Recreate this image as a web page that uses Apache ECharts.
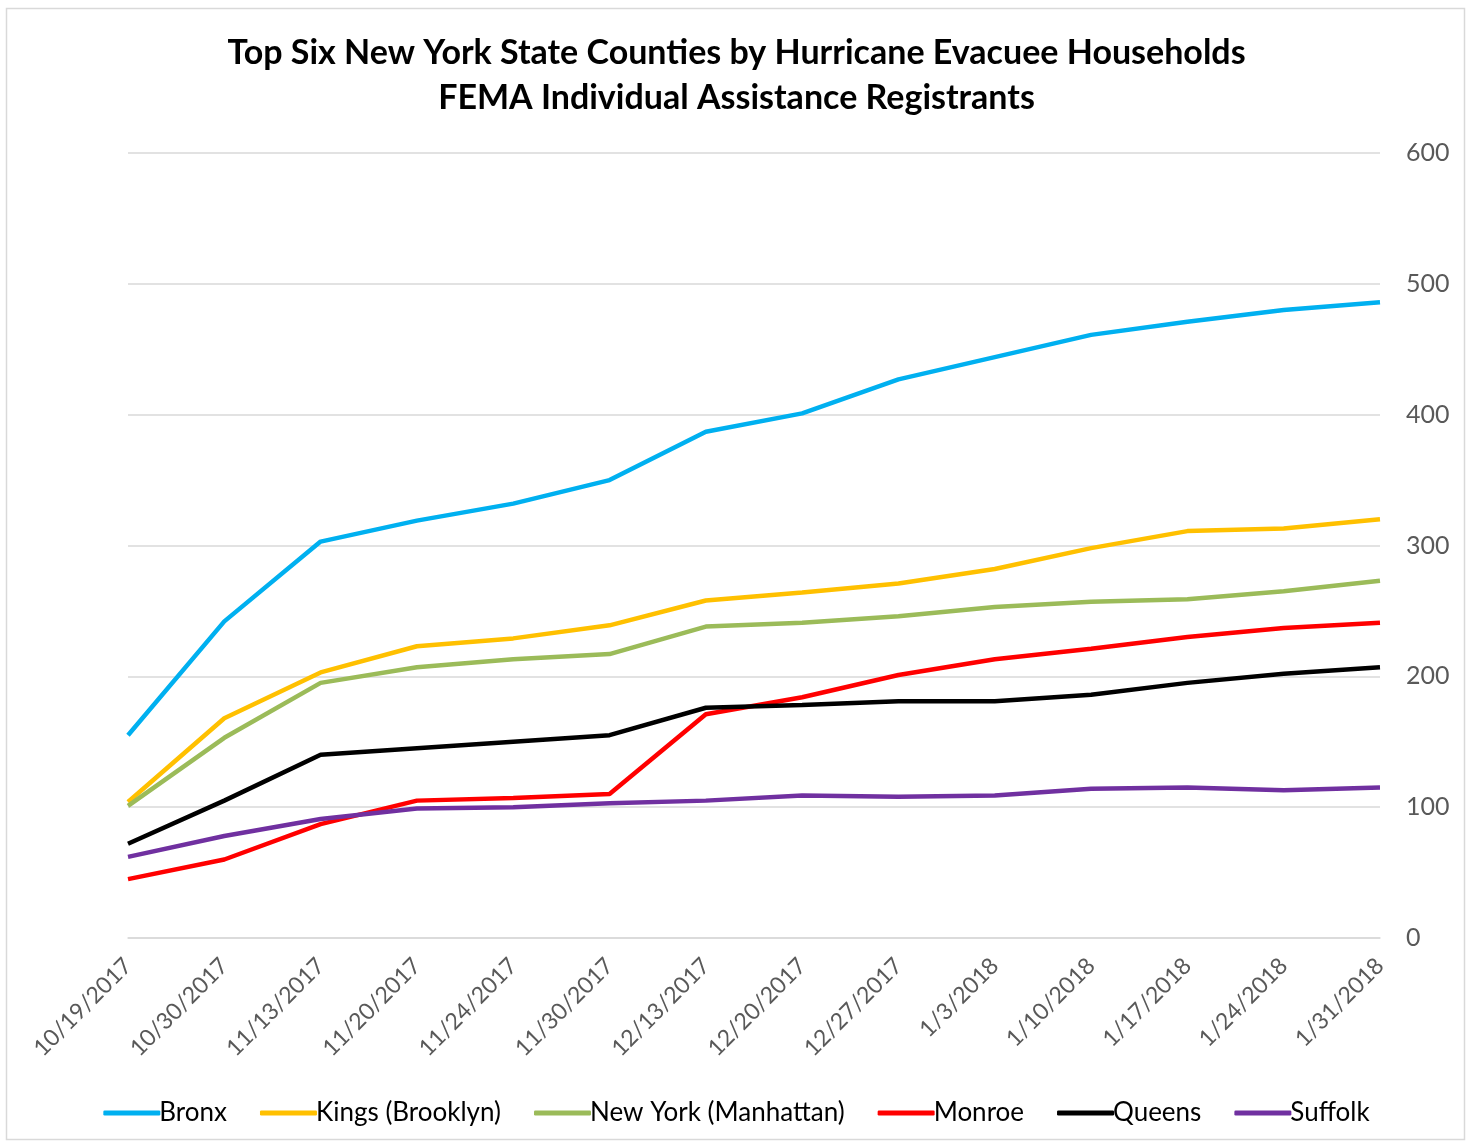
<!DOCTYPE html>
<html>
<head>
<meta charset="utf-8">
<script src="https://cdn.jsdelivr.net/npm/echarts@6/dist/echarts.min.js"></script>
<style>
html,body{margin:0;padding:0;background:#fff;}
#chart{width:1473px;height:1147px;}
</style>
</head>
<body>
<div id="chart"></div>
<script>
const categories = ['10/19/2017','10/30/2017','11/13/2017','11/20/2017','11/24/2017','11/30/2017','12/13/2017','12/20/2017','12/27/2017','1/3/2018','1/10/2018','1/17/2018','1/24/2018','1/31/2018'];
const bronx    = [155, 242, 303, 319, 332, 350, 387, 401, 427, 444, 461, 471, 480, 486];
const kings    = [104, 168, 203, 223, 229, 239, 258, 264, 271, 282, 298, 311, 313, 320];
const newYork  = [101, 153, 195, 207, 213, 217, 238, 241, 246, 253, 257, 259, 265, 273];
const monroe   = [45, 60, 87, 105, 107, 110, 171, 184, 201, 213, 221, 230, 237, 241];
const queens   = [72, 105, 140, 145, 150, 155, 176, 178, 181, 181, 186, 195, 202, 207];
const suffolk  = [62, 78, 91, 99, 100, 103, 105, 109, 108, 109, 114, 115, 113, 115];
const yTicks = {min: 0, max: 600, interval: 100};

const seriesDefs = [
  {name: 'Bronx', data: bronx, color: '#00B0F0'},
  {name: 'Kings (Brooklyn)', data: kings, color: '#FFC000'},
  {name: 'New York (Manhattan)', data: newYork, color: '#9BBB59'},
  {name: 'Monroe', data: monroe, color: '#FF0000'},
  {name: 'Queens', data: queens, color: '#000000'},
  {name: 'Suffolk', data: suffolk, color: '#7030A0'}
];

const chart = echarts.init(document.getElementById('chart'));
const font = 'Lato, "Open Sans", sans-serif';
chart.setOption({
  backgroundColor: '#fff',
  textStyle: {fontFamily: font},
  title: {
    text: 'Top Six New York State Counties by Hurricane Evacuee Households\nFEMA Individual Assistance Registrants',
    left: 'center',
    top: 26,
    textStyle: {fontFamily: font, fontSize: 34, fontWeight: 'bold', color: '#000', lineHeight: 45}
  },
  graphic: [{
    type: 'rect',
    shape: {x: 6.5, y: 8.5, width: 1458, height: 1131},
    style: {fill: 'none', stroke: '#d9d9d9', lineWidth: 1.5},
    silent: true, z: -1
  }],
  legend: {
    bottom: 16,
    left: 'center',
    itemWidth: 57,
    itemHeight: 5,
    itemGap: 33,
    icon: 'roundRect',
    textStyle: {fontFamily: font, fontSize: 26, color: '#000', padding: [0,0,0,-6]},
    data: seriesDefs.map(s => s.name)
  },
  grid: {left: 128, right: 93, top: 153, bottom: 209, containLabel: false},
  xAxis: {
    type: 'category',
    data: categories,
    boundaryGap: false,
    axisLine: {show: true, lineStyle: {color: '#d9d9d9', width: 1.5}},
    axisTick: {show: false},
    axisLabel: {rotate: 45, fontSize: 23, color: '#595959', margin: 24, interval: 0, fontFamily: font}
  },
  yAxis: {
    type: 'value',
    position: 'right',
    min: yTicks.min, max: yTicks.max, interval: yTicks.interval,
    axisLine: {show: false},
    axisTick: {show: false},
    splitLine: {lineStyle: {color: '#d9d9d9', width: 1.5}},
    axisLabel: {fontSize: 25, color: '#595959', margin: 26, align: 'left', fontFamily: font}
  },
  series: seriesDefs.map(s => ({
    name: s.name,
    type: 'line',
    data: s.data,
    symbol: 'none',
    smooth: false,
    lineStyle: {color: s.color, width: 4.5},
    itemStyle: {color: s.color}
  }))
});
</script>
</body>
</html>
